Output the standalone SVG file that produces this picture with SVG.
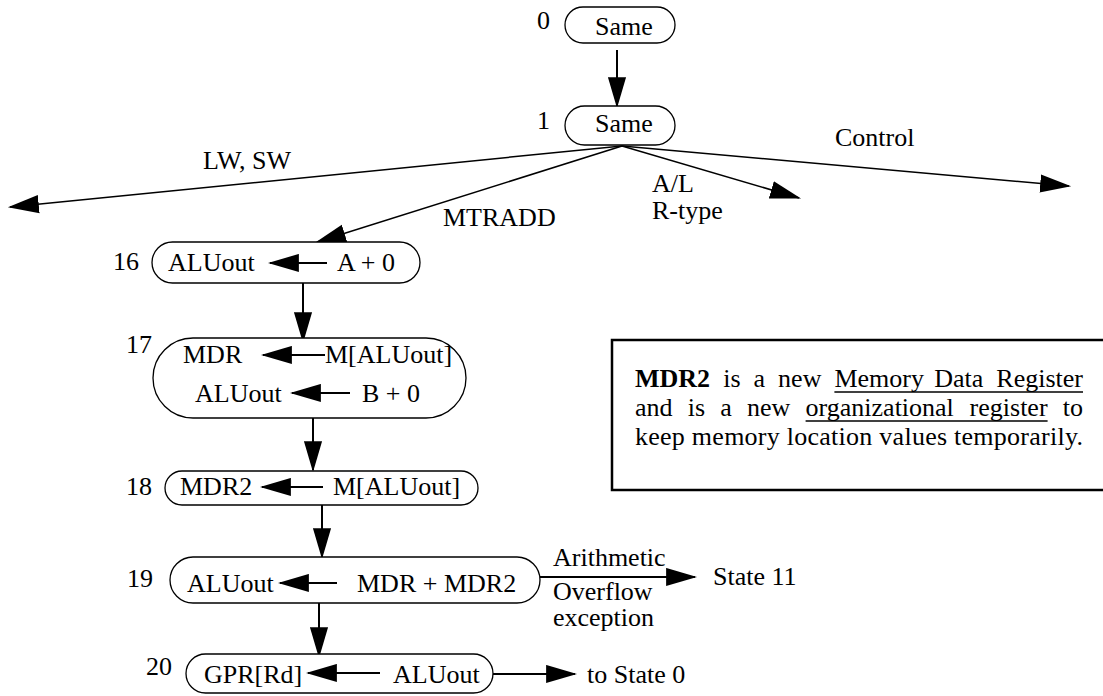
<svg xmlns="http://www.w3.org/2000/svg" width="1103" height="696" viewBox="0 0 1103 696" font-family="'Liberation Serif', 'Times New Roman', Times, serif" font-size="26">
  <style>
    .bold { font-weight: bold; }
    .state { fill: #fff; stroke: #000; stroke-width: 1.3; }
    .conn { fill: none; stroke: #000; stroke-width: 2; }
    .fan { fill: none; stroke: #000; stroke-width: 1.5; }
    .assign { fill: none; stroke: #000; stroke-width: 2; }
    .note { fill: #fff; stroke: #000; stroke-width: 2.5; }
    .ul { stroke: #000; stroke-width: 1.3; }
  </style>
  <defs>
    <marker id="head" markerUnits="userSpaceOnUse" markerWidth="31" markerHeight="19" viewBox="0 0 29 17" refX="27" refY="8.5" orient="auto">
      <path d="M0,0 L29,8.5 L0,17 z" fill="#000"/>
    </marker>
  </defs>
  <rect width="1103" height="696" fill="#fff"/>

  <!-- connectors between states -->
  <g id="connectors">
    <line class="conn" x1="617" y1="50" x2="617" y2="106" marker-end="url(#head)"/>
    <line class="fan" x1="622" y1="146" x2="10" y2="207" marker-end="url(#head)"/>
    <line class="fan" x1="622" y1="146" x2="317" y2="242" marker-end="url(#head)"/>
    <line class="fan" x1="622" y1="146" x2="799" y2="198" marker-end="url(#head)"/>
    <line class="fan" x1="622" y1="146" x2="1069" y2="186" marker-end="url(#head)"/>
    <line class="conn" x1="303" y1="283" x2="303" y2="341" marker-end="url(#head)"/>
    <line class="conn" x1="313" y1="418" x2="313" y2="470" marker-end="url(#head)"/>
    <line class="conn" x1="322" y1="505" x2="322" y2="557" marker-end="url(#head)"/>
    <line class="conn" x1="319" y1="603" x2="319" y2="656" marker-end="url(#head)"/>
    <line class="conn" x1="540" y1="577" x2="695" y2="577" marker-end="url(#head)"/>
    <line class="conn" x1="493" y1="674" x2="575" y2="674" marker-end="url(#head)"/>
  </g>

  <!-- branch labels -->
  <g id="labels">
    <text x="203" y="169">LW, SW</text>
    <text x="443" y="226">MTRADD</text>
    <text x="652" y="192">A/L</text>
    <text x="652" y="219">R-type</text>
    <text x="835" y="146">Control</text>
    <text x="553" y="566">Arithmetic</text>
    <text x="553" y="600">Overflow</text>
    <text x="553" y="626">exception</text>
    <text x="713" y="585">State 11</text>
    <text x="587" y="683">to State 0</text>
  </g>

  <g id="state0">
    <rect class="state" x="565" y="7" width="110" height="36" rx="18"/>
    <text x="537" y="29">0</text>
    <text x="595" y="35">Same</text>
  </g>

  <g id="state1">
    <rect class="state" x="565" y="106" width="110" height="39" rx="19.5"/>
    <text x="537" y="129">1</text>
    <text x="595" y="132">Same</text>
  </g>

  <g id="state16">
    <rect class="state" x="152" y="242" width="268" height="41" rx="20.5"/>
    <text x="113" y="270">16</text>
    <text x="168" y="271">ALUout</text>
    <line class="assign" x1="327" y1="263" x2="270" y2="263" marker-end="url(#head)"/>
    <text x="337" y="271">A + 0</text>
  </g>

  <g id="state17">
    <rect class="state" x="153" y="338" width="313" height="80" rx="40"/>
    <text x="126" y="353">17</text>
    <text x="183" y="363">MDR</text>
    <line class="assign" x1="325" y1="355" x2="263" y2="355" marker-end="url(#head)"/>
    <text x="325" y="363">M[ALUout]</text>
    <text x="195" y="402">ALUout</text>
    <line class="assign" x1="350" y1="393" x2="292" y2="393" marker-end="url(#head)"/>
    <text x="362" y="402">B + 0</text>
  </g>

  <g id="state18">
    <rect class="state" x="165" y="471" width="313" height="34" rx="17"/>
    <text x="126" y="495">18</text>
    <text x="180" y="495">MDR2</text>
    <line class="assign" x1="323" y1="487" x2="262" y2="487" marker-end="url(#head)"/>
    <text x="333" y="495">M[ALUout]</text>
  </g>

  <g id="state19">
    <rect class="state" x="170" y="557" width="370" height="46" rx="23"/>
    <text x="127" y="587">19</text>
    <text x="187" y="592">ALUout</text>
    <line class="assign" x1="337" y1="583" x2="280" y2="583" marker-end="url(#head)"/>
    <text x="357" y="592">MDR + MDR2</text>
  </g>

  <g id="state20">
    <rect class="state" x="186" y="654" width="307" height="39" rx="19.5"/>
    <text x="146" y="675">20</text>
    <text x="204" y="683">GPR[Rd]</text>
    <line class="assign" x1="380" y1="673" x2="308" y2="673" marker-end="url(#head)"/>
    <text x="393" y="683">ALUout</text>
  </g>

  <!-- explanatory note about MDR2, justified lines set word by word -->
  <g id="note">
    <rect class="note" x="612" y="340" width="500" height="150"/>
    <text y="387"><tspan class="bold" x="635">MDR2</tspan><tspan x="723.2">is</tspan><tspan x="753.5">a</tspan><tspan x="778.1">new</tspan><tspan x="834.4">Memory</tspan><tspan x="934.2">Data</tspan><tspan x="996.3">Register</tspan></text>
    <text y="416"><tspan x="635">and</tspan><tspan x="687.8">is</tspan><tspan x="720.3">a</tspan><tspan x="747">new</tspan><tspan x="805.6">organizational</tspan><tspan x="969.6">register</tspan><tspan x="1062.8">to</tspan></text>
    <text x="635" y="445" textLength="448">keep memory location values temporarily.</text>
    <line class="ul" x1="834.4" y1="392" x2="1083" y2="392"/>
    <line class="ul" x1="805.6" y1="421" x2="1047.6" y2="421"/>
  </g>
</svg>
